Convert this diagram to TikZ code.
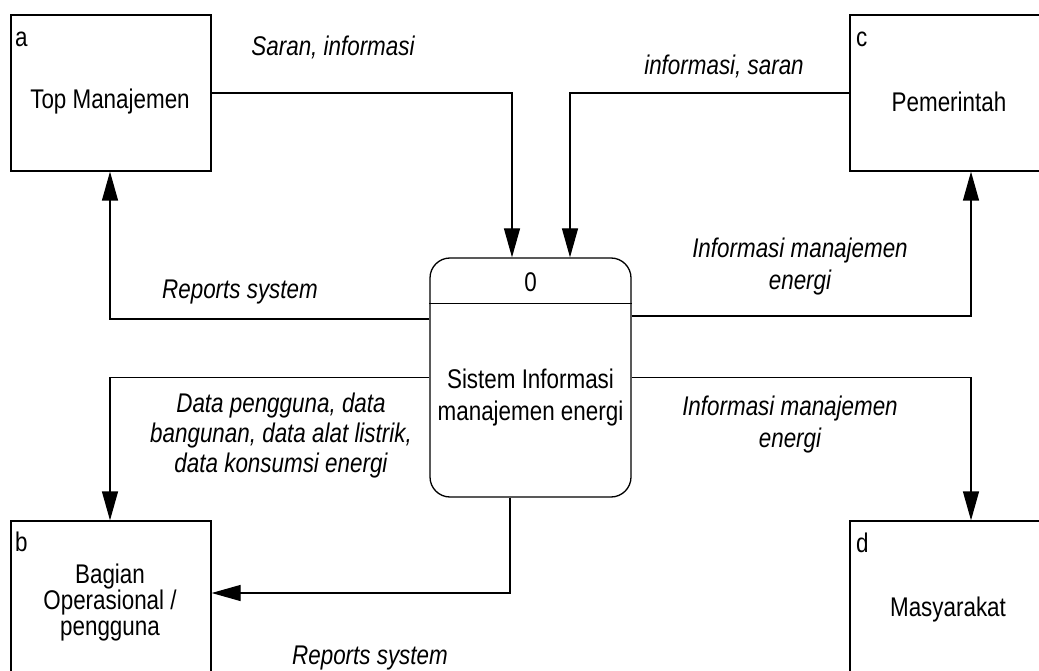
\documentclass[tikz,border=0pt]{standalone}
\usepackage{fontspec}
\setmainfont{Liberation Sans}[FakeStretch=0.83]
\usetikzlibrary{arrows.meta,calc}
\tikzset{
  ent/.style={draw, line width=1.3pt, minimum width=200pt, minimum height=156pt, inner sep=0pt},
  proc/.style={draw, line width=1.3pt, rounded corners=20pt, minimum width=201pt, minimum height=239pt, inner sep=0pt},
  conn/.style={line width=1.3pt, -{Triangle[length=29pt,width=16pt]}},
  txt/.style={font=\fontsize{27}{32}\selectfont, align=center, inner sep=0pt},
  lbl/.style={font=\fontsize{27}{32}\selectfont\itshape, align=center, inner sep=0pt},
  idx/.style={font=\fontsize{27}{30}\selectfont, anchor=base west, inner sep=0pt}
}
\begin{document}
\begin{tikzpicture}[x=1pt,y=-1pt]
\useasboundingbox (0,0) rectangle (1039,671);
\fill[white] (0,0) rectangle (1039,671);
% external entities
\node[ent] (a) at (111,93) {};
\node[ent] (c) at (950,93) {};
\node[ent] (b) at (111,599) {};
\node[ent] (d) at (950,599) {};
% process
\node[proc] (p) at (530.5,377.5) {};
\draw[line width=1.3pt] ([yshift=-46pt]p.north west) -- ([yshift=-46pt]p.north east);
\node[txt] (p0) at (530.5,282) {0};
\node[txt] (pt) at (530.5,398) {Sistem Informasi\\manajemen energi};
% entity texts
\node[idx] (al) at (15,47) {a};
\node[idx] (cl) at (856,47) {c};
\node[idx] (bl) at (15,551) {b};
\node[idx] (dl) at (856,552) {d};
\node[txt] (at) at (110,102) {Top Manajemen};
\node[txt] (ct) at (949,102) {Pemerintah};
\node[txt, font=\fontsize{27}{26}\selectfont] (bt) at (110,603) {Bagian\\Operasional /\\pengguna};
\node[txt] (dt) at (948,610) {Masyarakat};
% connectors
\draw[conn] (a.east) -| ([xshift=-18.5pt]p.north);
\draw[conn] (c.west) -| ([xshift=39.5pt]p.north);
\draw[conn] ([yshift=58.5pt]p.west) -| ([xshift=-1pt]a.south);
\draw[conn] ([yshift=61.5pt]p.east) -| ([xshift=21pt]c.south);
\draw[conn] (p.west) -| ([xshift=-1pt]b.north);
\draw[conn] (p.east) -| ([xshift=21pt]d.north);
\draw[conn] ([xshift=-20.5pt]p.south) |- ([yshift=6pt]b.east);
% flow labels
\node[lbl] (l1) at (333,47) {Saran, informasi};
\node[lbl] (l2) at (724,66) {informasi, saran};
\node[lbl] (l3) at (240,292) {Reports system};
\node[lbl] (l4) at (800,267) {Informasi manajemen\\energi};
\node[lbl, font=\fontsize{27}{30}\selectfont\itshape] (l5) at (281,436) {Data pengguna, data\\bangunan, data alat listrik,\\data konsumsi energi};
\node[lbl] (l6) at (790,425) {Informasi manajemen\\energi};
\node[lbl] (l7) at (370,658) {Reports system};
\end{tikzpicture}
\end{document}
